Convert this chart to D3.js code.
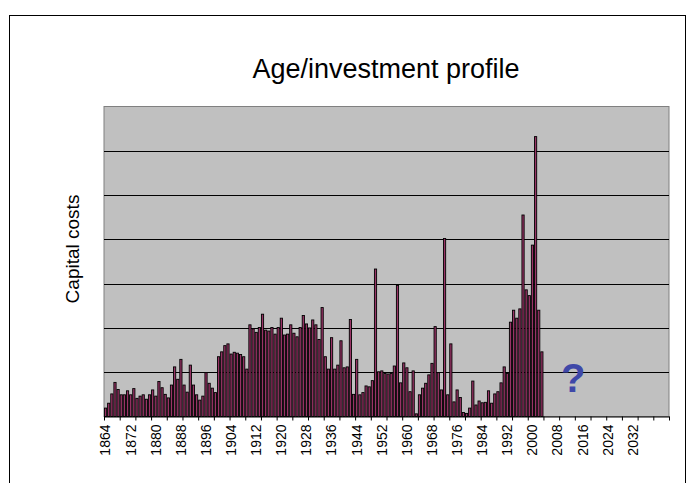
<!DOCTYPE html>
<html>
<head>
<meta charset="utf-8">
<script src="https://cdn.jsdelivr.net/npm/d3@7"></script>
<style>
  body { margin: 0; background: #fff; }
  svg { display: block; font-family: "Liberation Sans", Arial, sans-serif; }
</style>
</head>
<body>
<script>
// categories: one per year, the axis runs on past the data
var firstYear = 1864, lastYear = 2043;
var years = d3.range(firstYear, lastYear + 1);

// capital costs per year, 1864..2003 (gridline = 10)
var costs = [
  1.9, 3.0, 5.1, 7.7, 6.1, 4.9, 4.9, 5.8, 4.9, 6.3,
  4.1, 4.6, 4.9, 3.9, 4.9, 6.0, 4.6, 7.9, 6.5, 5.0,
  4.2, 7.1, 11.2, 8.4, 12.9, 7.1, 5.5, 11.6, 7.1, 4.9,
  3.7, 4.6, 9.9, 7.5, 6.4, 5.4, 13.5, 14.6, 16.0, 16.4,
  14.1, 14.5, 14.3, 14.0, 13.5, 10.7, 20.7, 19.8, 19.0, 20.1,
  23.1, 19.5, 19.3, 20.1, 18.6, 20.1, 22.2, 18.4, 18.6, 20.7,
  18.8, 18.0, 20.1, 22.8, 20.9, 20.0, 21.8, 20.7, 17.4, 24.6,
  13.5, 10.7, 17.8, 10.7, 11.6, 17.1, 11.0, 11.2, 21.9, 5.0,
  12.9, 4.9, 5.4, 6.9, 6.7, 8.1, 33.3, 10.1, 10.3, 9.7,
  9.6, 9.7, 11.4, 29.6, 7.6, 12.1, 11.0, 5.6, 10.3, 0.6,
  4.9, 6.4, 7.5, 9.4, 12.0, 20.3, 9.9, 6.0, 40.2, 4.9,
  16.4, 3.3, 6.0, 4.3, 0.9, 0.7, 1.9, 8.0, 2.6, 3.5,
  3.1, 3.2, 5.8, 3.0, 5.1, 5.6, 7.6, 11.2, 9.7, 21.3,
  24.0, 22.2, 24.3, 45.5, 28.6, 27.3, 38.7, 63.2, 24.0, 14.6
];

var labelYears = [1864, 1872, 1880, 1888, 1896, 1904, 1912, 1920, 1928, 1936,
  1944, 1952, 1960, 1968, 1976, 1984, 1992, 2000, 2008, 2016, 2024, 2032];
var gridValues = [10, 20, 30, 40, 50, 60];

var data = costs.map(function(v, i) { return {year: firstYear + i, value: v}; });

var W = 694, H = 483;
var plot = {left: 104, right: 669, top: 106.5, bottom: 416.5};

var svg = d3.select("body").append("svg")
  .attr("width", W)
  .attr("height", H);

// outer chart frame
svg.append("rect")
  .attr("x", 9.5).attr("y", 15.5)
  .attr("width", 676).attr("height", 490)
  .attr("fill", "#fff")
  .attr("stroke", "#000")
  .attr("stroke-width", 1);

svg.append("text")
  .attr("x", 386).attr("y", 78)
  .attr("text-anchor", "middle")
  .style("font-size", "27px")
  .attr("fill", "#000")
  .text("Age/investment profile");

var x = d3.scaleBand()
  .domain(years)
  .range([plot.left, plot.right])
  .paddingInner(0.3)
  .paddingOuter(0.15);

var xTick = d3.scaleLinear()
  .domain([firstYear, lastYear + 1])
  .range([plot.left, plot.right]);

var y = d3.scaleLinear()
  .domain([0, 70])
  .range([plot.bottom, plot.top]);

// plot area
svg.append("rect")
  .attr("x", plot.left).attr("y", plot.top)
  .attr("width", plot.right - plot.left)
  .attr("height", plot.bottom - plot.top)
  .attr("fill", "#c0c0c0")
  .attr("stroke", "#808080")
  .attr("stroke-width", 1);

svg.append("g")
  .selectAll("line")
  .data(gridValues)
  .enter().append("line")
  .attr("x1", plot.left).attr("x2", plot.right)
  .attr("y1", function(d) { return Math.round(y(d)) + 0.5; })
  .attr("y2", function(d) { return Math.round(y(d)) + 0.5; })
  .attr("stroke", "#000")
  .attr("stroke-width", 1);

// bars
svg.append("g")
  .selectAll("rect")
  .data(data)
  .enter().append("rect")
  .attr("x", function(d) { return x(d.year); })
  .attr("y", function(d) { return y(d.value); })
  .attr("width", x.bandwidth())
  .attr("height", function(d) { return plot.bottom - y(d.value); })
  .attr("fill", "#993366")
  .attr("stroke", "#000")
  .attr("stroke-width", 0.9);

// tick marks every 5 categories
var tickAxis = d3.axisBottom(xTick)
  .tickValues(d3.range(firstYear, lastYear + 2, 5))
  .tickFormat("")
  .tickSize(4)
  .tickSizeOuter(0);

svg.append("g")
  .attr("transform", "translate(0," + plot.bottom + ")")
  .call(tickAxis)
  .call(function(g) { g.selectAll("line,path").attr("stroke", "#000"); });

// year labels
var labelAxis = d3.axisBottom(x)
  .tickValues(labelYears)
  .tickSize(0)
  .tickSizeOuter(0);

var lab = svg.append("g")
  .attr("transform", "translate(0," + plot.bottom + ")")
  .call(labelAxis);
lab.select(".domain").remove();
lab.selectAll("text")
  .attr("transform", "rotate(-90)")
  .attr("x", -8)
  .attr("y", 0)
  .attr("dy", "0.35em")
  .style("text-anchor", "end")
  .style("font-family", "'Liberation Sans', Arial, sans-serif")
  .style("font-size", "14px")
  .attr("fill", "#000");

// y title
svg.append("text")
  .attr("transform", "translate(79,249) rotate(-90)")
  .attr("text-anchor", "middle")
  .style("font-size", "19px")
  .attr("fill", "#000")
  .text("Capital costs");

// the unknown future
svg.append("text")
  .attr("x", x(2013) + x.bandwidth() / 2)
  .attr("y", y(5.5))
  .attr("text-anchor", "middle")
  .style("font-size", "40px")
  .style("font-weight", "bold")
  .attr("fill", "#3f48a8")
  .text("?");
</script>
</body>
</html>
